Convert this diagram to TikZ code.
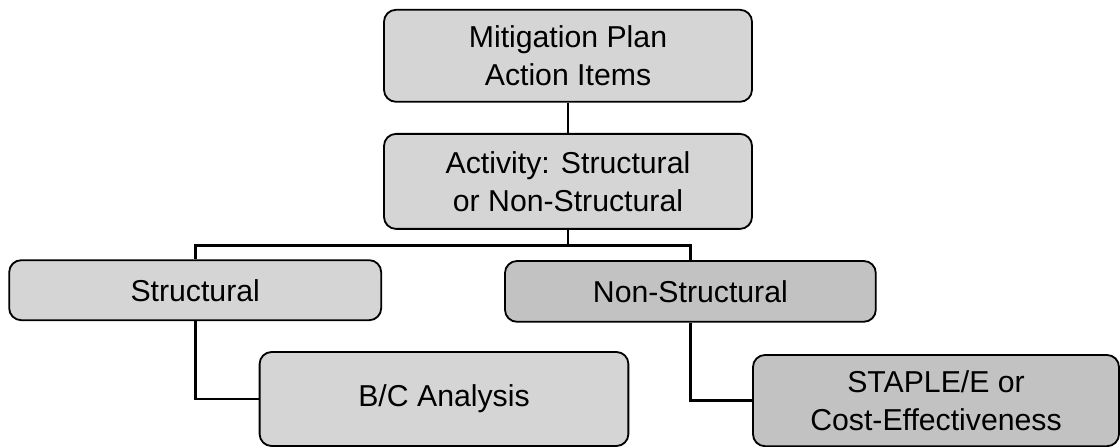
\documentclass[tikz,border=0pt]{standalone}
\usepackage{fontspec}
\setmainfont{Liberation Sans}
\begin{document}
\begin{tikzpicture}[
        box/.style={draw, line width=1.3pt, rounded corners=0.3cm, align=center,
            minimum width=9.2cm, font=\fontsize{21.5}{27}\selectfont},
        lightbox/.style={box, fill=gray!33},
        darkbox/.style={box, fill=gray!48},
        link/.style={line width=2pt}]
        \useasboundingbox (0,0) rectangle (28,11.175);

        \node[lightbox, minimum height=2.3cm] (plan) at (14.2,9.78) {Mitigation Plan\\Action Items};
        \node[lightbox, minimum height=2.375cm] (activity) at (14.2,6.64) {Activity: Structural\\ or Non-Structural};

        \node[lightbox, minimum width=9.3cm, minimum height=1.5cm] (struct) at (4.88,3.92) {Structural};
        \node[darkbox, minimum width=9.27cm, minimum height=1.52cm] (nonstruct) at (17.26,3.89) {Non-Structural};

        \node[lightbox, minimum width=9.22cm, minimum height=2.35cm] (bc) at (11.1,1.2) {B/C Analysis};
        \node[darkbox, minimum width=9.15cm, minimum height=2.28cm] (staple) at (23.4,1.16) {STAPLE/E or\\Cost-Effectiveness};

        \draw[link] (plan) -- (activity);
        \draw[link] (activity.south) -- ++(0,-0.4) -| (struct.north);
        \draw[link] (activity.south) -- ++(0,-0.4) -| (nonstruct.north);
        \draw[link] (struct.south) |- (bc.west);
        \draw[link] (nonstruct.south) |- (staple.west);
\end{tikzpicture}
\end{document}
